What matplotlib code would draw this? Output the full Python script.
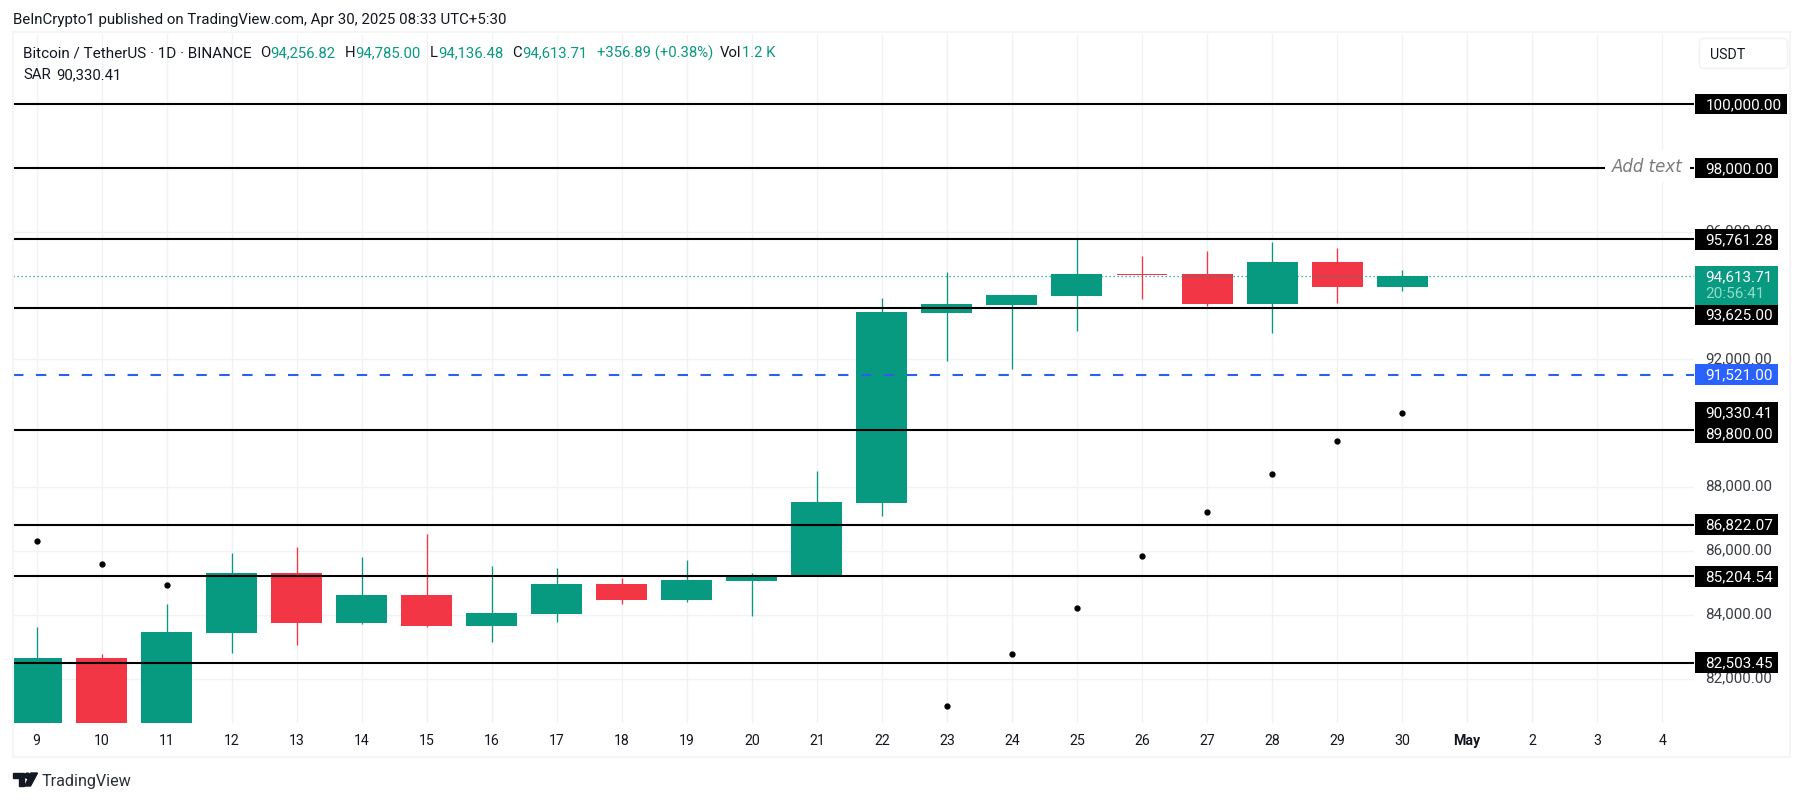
import matplotlib
matplotlib.use("Agg")
import matplotlib.pyplot as plt
from matplotlib.patches import Rectangle, FancyBboxPatch, Polygon, Circle
from matplotlib.transforms import ScaledTranslation

plt.rcParams["font.family"] = ["Roboto", "DejaVu Sans"]

# Daily candles, Apr 9 to Apr 30. The first three open below the visible range.
day_labels = ["9", "10", "11", "12", "13", "14", "15", "16", "17", "18", "19", "20", "21",
              "22", "23", "24", "25", "26", "27", "28", "29", "30", "May", "2", "3", "4"]
opens = [76270, 82636, 79610, 83428, 85298, 83732, 84609, 83647, 84023, 84953, 84462, 85057,
         85226, 87500, 93441, 93692, 93974, 94663, 94663, 93723, 95038, 94256.82]
closes = [82636, 79610, 83450, 85298, 83741, 84609, 83647, 84045, 84953, 84462, 85079, 85204,
          87522, 93473, 93723, 94005, 94663, 94632, 93723, 95038, 94255, 94613.71]
highs = [83607, 82761, 84327, 85924, 86112, 85799, 86519, 85517, 85477, 85141, 85705, 85320,
         88493, 93911, 94725, 94027, 95759, 95226, 95383, 95665, 95477, 94785]
lows = [74620, 78350, 78990, 82792, 83052, 83701, 83607, 83146, 83773, 84336, 84399, 83961,
        85226, 87093, 91938, 91687, 92877, 93880, 93660, 92815, 93754, 94136.48]

# Parabolic SAR dots, only the ones inside the visible range.
sar_days = [0, 1, 2, 14, 15, 16, 17, 18, 19, 20, 21]
sar_values = [86322, 85602, 84944, 81154, 82783, 84224, 85852, 87230, 88421, 89454, 90330.41]

levels = [100000, 98000, 95761.28, 93625, 89800, 86822.07, 85204.54, 82503.45]
level_labels = ["100,000.00", "98,000.00", "95,761.28", "93,625.00",
                "89,800.00", "86,822.07", "85,204.54", "82,503.45"]
blue_level = 91521
last_price = 94613.71
sar_last = 90330.41
price_ticks = [82000, 84000, 86000, 88000, 92000, 96000]

GREEN = "#089981"
RED = "#F23645"
BLUE = "#2962E8"
DARK = "#131722"
GRID = "#F1F2F5"
W, H = 1804, 803


def px_rect(left, top, right, bottom):
    # Convert pixel edges (origin top left) to a figure rectangle.
    return [left / W, 1 - bottom / H, (right - left) / W, (bottom - top) / H]


fig = plt.figure(figsize=(W / 100, H / 100), dpi=100, facecolor="white")

ax = fig.add_axes(px_rect(13.3, 35.4, 1694, 724.4))
ax.set_xlim(-0.36, 25.49)
ax.set_ylim(80600, 102179)
for side in ax.spines.values():
    side.set_visible(False)

# Grid and axis labels.
ax.set_xticks(range(len(day_labels)))
ax.set_xticklabels(day_labels, fontsize=10.2, color=DARK)
ax.get_xticklabels()[22].set_fontweight("bold")
ax.set_yticks(price_ticks)
ax.set_yticklabels([f"{t:,.2f}" for t in price_ticks], fontsize=10.9, color="#3A3D45", ha="left")
ax.yaxis.tick_right()
ax.tick_params(axis="x", length=0, pad=7)
ax.tick_params(axis="y", length=0, pad=8)
ax.grid(True, color=GRID, linewidth=1)
ax.set_axisbelow(True)
# Price labels sit a little above their gridlines.
for label in ax.get_yticklabels():
    label.set_transform(label.get_transform() + ScaledTranslation(0, 2.2 / 72, fig.dpi_scale_trans))

# Candles: wick first, then the body on top.
for i in range(len(opens)):
    color = GREEN if closes[i] >= opens[i] else RED
    ax.vlines(i, lows[i], highs[i], color=color, linewidth=0.95, zorder=2)
    ax.bar(i, abs(closes[i] - opens[i]), bottom=min(opens[i], closes[i]), width=0.784,
           color=color, linewidth=0, zorder=3)

ax.plot(sar_days, sar_values, linestyle="none", marker="o", markersize=3.5, color="black", zorder=4)

# Drawn levels sit above the candles.
for level in levels:
    ax.axhline(level, color="black", linewidth=1.5, zorder=5)
ax.axhline(blue_level, color=BLUE, linewidth=1.5, dashes=(5, 6), dash_capstyle="butt", zorder=5)
ax.axhline(last_price, color=GREEN, linewidth=0.9, linestyle=(0, (1, 2.2)), zorder=5)
ax.annotate("Add text", (1, 98000), xycoords=("axes fraction", "data"), xytext=(-8, 1),
            textcoords="offset points", ha="right", va="center", fontsize=12, style="italic",
            family="DejaVu Sans", color="#7A7A7A", zorder=6,
            bbox=dict(facecolor="white", edgecolor="none", pad=5))

# Overlay in pixel coordinates for the chrome and the price tags.
over = fig.add_axes([0, 0, 1, 1], facecolor="none")
over.set_xlim(0, W)
over.set_ylim(H, 0)
over.axis("off")


def price_y(value):
    # Pixel row of a price on the main axes.
    return H - ax.transData.transform((0, value))[1]


def tag(value, text, color, shift=0, right=1778):
    y = price_y(value) + shift
    over.add_patch(Rectangle((1695, y - 10.3), right - 1695, 20.6, facecolor=color, edgecolor="none"))
    over.text(1705.5, y, text, color="white", fontsize=11, va="center", ha="left")


over.add_patch(Rectangle((13, 33), 1777, 725, facecolor="none", edgecolor="#F5F5F6", linewidth=1.5))
over.add_patch(FancyBboxPatch((1702, 42), 83, 25, boxstyle="round,pad=2.5,rounding_size=4",
                              facecolor="white", edgecolor="#F1F2F5", linewidth=1))
over.text(1710, 55, "USDT", fontsize=10.2, color=DARK, va="center")

shifts = [0, 0, 0, 7, 3.4, 0, 0, 0]
for level, label, shift in zip(levels, level_labels, shifts):
    tag(level, label, "black", shift, right=1787 if level == 100000 else 1778)
tag(sar_last, f"{sar_last:,.2f}", "black")
tag(blue_level, f"{blue_level:,.2f}", "#2962FF")

# Last price tag is taller because it holds the countdown.
y_last = price_y(last_price)
over.add_patch(Rectangle((1695, y_last - 10), 83, 38.7, facecolor=GREEN, edgecolor="none"))
over.text(1705.5, y_last, f"{last_price:,.2f}", color="white", fontsize=11, va="center")
over.text(1705.5, y_last + 17.4, "20:56:41", color="#8FDCC9", fontsize=11, va="center")

# Header and legend lines.
over.text(13, 20, "BeInCrypto1 published on TradingView.com, Apr 30, 2025 08:33 UTC+5:30",
          fontsize=10.85, color=DARK, va="center")
legend_parts = [(23, "Bitcoin / TetherUS · 1D · BINANCE", DARK), (260, "O", DARK), (270.5, "94,256.82", GREEN),
                (345, "H", DARK), (355, "94,785.00", GREEN), (430, "L", DARK), (438, "94,136.48", GREEN),
                (512.5, "C", DARK), (522, "94,613.71", GREEN), (597, "+356.89 (+0.38%)", GREEN),
                (720, "Vol", DARK), (742, "1.2 K", GREEN)]
for x, text, color in legend_parts:
    size = 11 if text.startswith("Bitcoin") else 10.7
    over.text(x, 53, text, fontsize=size, color=color, va="center")
over.text(23, 75, "SAR", fontsize=10.7, color=DARK, va="center")
over.text(56, 75, "90,330.41", fontsize=10.7, color=DARK, va="center")

# TradingView logo and wordmark.
over.add_patch(Polygon([(13, 774), (24, 774), (24, 787), (18.5, 787), (18.5, 779), (13, 779)], color="#131722"))
over.add_patch(Circle((27.5, 776.7), 2.6, color="#131722"))
over.add_patch(Polygon([(31, 774), (37.5, 774), (30.5, 787), (24.8, 787)], color="#131722"))
over.text(42, 781.5, "TradingView", fontsize=11.6, color="#2A2E39", va="center")

fig.savefig("out.png", dpi=100)
